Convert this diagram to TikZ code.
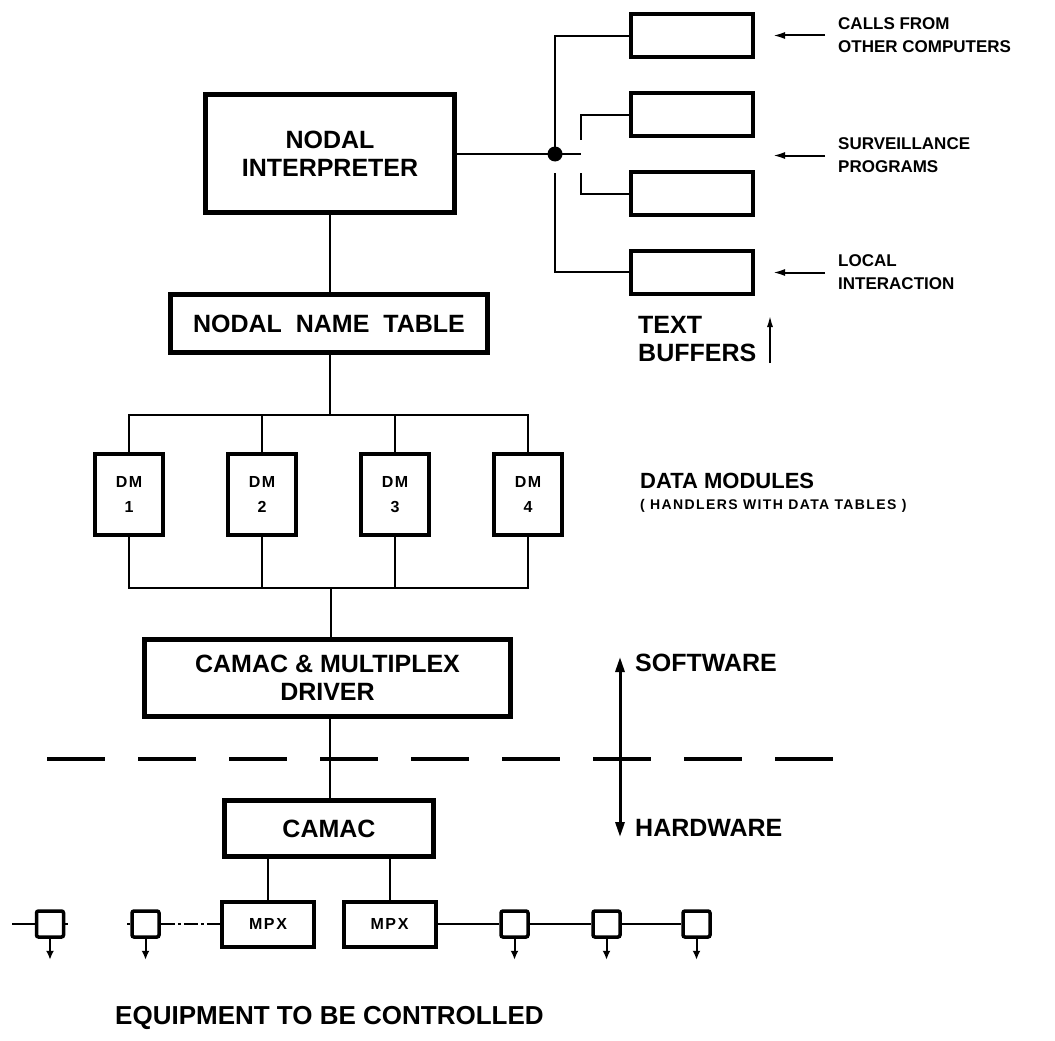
\documentclass[tikz,border=0pt]{standalone}
\usepackage{fontspec}
\setmainfont{Liberation Sans}
\newfontfamily\spacedf[LetterSpace=10]{Liberation Sans}
\usetikzlibrary{arrows.meta}
\newcommand\bigf{\bfseries\fontsize{25}{28}\selectfont}
\newcommand\labf{\bfseries\fontsize{17}{23}\selectfont}
\newcommand\dmf{\spacedf\bfseries\fontsize{16}{25}\selectfont}
\newcommand\subf{\spacedf\bfseries\fontsize{14}{16}\selectfont}
\begin{document}
\begin{tikzpicture}[x=1pt,y=-1pt,
  bigbox/.style={draw, line width=4.5pt, inner sep=0pt, align=center, font=\bigf},
  dmbox/.style={draw, line width=4pt, inner sep=0pt, align=center, font=\dmf,
                minimum width=68pt, minimum height=81pt},
  bufbox/.style={draw, line width=4pt, inner sep=0pt, minimum width=122pt, minimum height=43pt},
  mpxbox/.style={draw, line width=4pt, inner sep=0pt, align=center, font=\dmf,
                 minimum width=92pt, minimum height=45pt},
  eqbox/.style={draw, line width=3.5pt, inner sep=0pt, rounded corners=2pt,
                minimum width=27pt, minimum height=26pt},
  conn/.style={line width=2pt},
  lab/.style={anchor=west, align=left, inner sep=0pt, font=\labf},
  biglab/.style={anchor=west, align=left, inner sep=0pt, font=\bigf},
  smalltip/.style={-{Latex[length=12pt,width=7pt]}, line width=2pt},
  downtip/.style={-{Latex[length=9pt,width=8pt]}, line width=2pt},
  bigtip/.style={-{Triangle[length=15pt,width=9pt]}, line width=3pt}
]
\useasboundingbox (0,0) rectangle (1055,1041);
\fill[white] (0,0) rectangle (1055,1041);

% main chain
\node[bigbox, minimum width=249pt, minimum height=118pt] (interp) at (330,153.5) {NODAL\\INTERPRETER};
\node[bigbox, minimum width=317pt, minimum height=58pt] (ntab) at (329,323.5) {NODAL\ \ NAME\ \ TABLE};
\node[dmbox] (dm1) at (129,494.5) {DM\\1};
\node[dmbox] (dm2) at (262,494.5) {DM\\2};
\node[dmbox] (dm3) at (395,494.5) {DM\\3};
\node[dmbox] (dm4) at (528,494.5) {DM\\4};
\node[bigbox, minimum width=366pt, minimum height=77pt] (drv) at (327.5,678) {CAMAC \& MULTIPLEX\\DRIVER};
\node[bigbox, minimum width=209pt, minimum height=56pt] (camac) at (329,828.5) {CAMAC};
\node[mpxbox] (mpx1) at (268,924) {MPX};
\node[mpxbox] (mpx2) at (389.5,924) {MPX};

% equipment squares
\node[eqbox] (sq1) at (50,924) {};
\node[eqbox] (sq2) at (145.5,924) {};
\node[eqbox] (sq3) at (514.5,924) {};
\node[eqbox] (sq4) at (606.5,924) {};
\node[eqbox] (sq5) at (696.5,924) {};

% text buffers
\node[bufbox] (buf1) at (692,36) {};
\node[bufbox] (buf2) at (692,114.5) {};
\node[bufbox] (buf3) at (692,193.5) {};
\node[bufbox] (buf4) at (692,272) {};

% labels
\node[lab] (calls) at (838,35.5) {CALLS FROM\\OTHER COMPUTERS};
\node[lab] (surv) at (838,155.5) {SURVEILLANCE\\PROGRAMS};
\node[lab] (local) at (838,272.5) {LOCAL\\INTERACTION};
\node[biglab] (tbuf) at (638,339) {TEXT\\BUFFERS};
\node[anchor=west, inner sep=0pt, font=\bfseries\fontsize{22}{24}\selectfont] (dmlab) at (640,481) {DATA MODULES};
\node[anchor=west, inner sep=0pt, font=\subf] (dmsub) at (640,506) {( HANDLERS WITH DATA TABLES )};
\node[biglab] (soft) at (635,663) {SOFTWARE};
\node[biglab] (hard) at (635,828) {HARDWARE};
\node[anchor=west, inner sep=0pt, font=\bfseries\fontsize{26}{28}\selectfont] (equip) at (115,1018) {EQUIPMENT TO BE CONTROLLED};

% coordinates
\coordinate (tb) at (330,415);
\coordinate (bb) at (331,588);
\coordinate (dot) at (555,154);
\coordinate (sw) at (620,759);

% connectors main chain
\draw[conn] (interp.south) -- (ntab.north -| interp.south);
\draw[conn] (ntab.south -| tb) -- (tb);
\draw[conn] (dm1.north) |- (tb) -| (dm4.north);
\draw[conn] (dm2.north) -- (dm2.north |- tb);
\draw[conn] (dm3.north) -- (dm3.north |- tb);
\draw[conn] (dm1.south) |- (bb) -| (dm4.south);
\draw[conn] (dm2.south) -- (dm2.south |- bb);
\draw[conn] (dm3.south) -- (dm3.south |- bb);
\draw[conn] (bb) -- (drv.north -| bb);
\draw[conn] (drv.south -| tb) -- (camac.north -| tb);
\draw[conn] (camac.south -| mpx1.north) -- (mpx1.north);
\draw[conn] (camac.south -| mpx2.north) -- (mpx2.north);

% equipment line
\draw[conn] (sq1.west) -- ++(-23,0);
\draw[conn] (sq1.east) -- ++(3,0);
\draw[conn] (sq2.west) -- ++(-3,0);
\draw[conn, dash pattern=on 14pt off 3pt on 3pt off 3pt] (sq2.east) -- (mpx1.west);
\draw[conn] (mpx2.east) -- (sq3.west);
\draw[conn] (sq3.east) -- (sq4.west);
\draw[conn] (sq4.east) -- (sq5.west);
\foreach \s in {sq1,sq2,sq3,sq4,sq5}
  \draw[downtip] (\s.south) -- ++(0,21);

% interpreter to text buffers
\draw[conn] (interp.east |- dot) -- (dot) -- ++(26,0);
\fill (dot) circle (7.5pt);
\draw[conn] (dot) -- (dot |- buf1.west) -- (buf1.west);
\draw[conn] ([yshift=-19pt]dot) -- (dot |- buf4.west) -- (buf4.west);
\draw[conn] (buf2.west) -| (581,140);
\draw[conn] (buf3.west) -| (581,173);

% input arrows
\draw[smalltip] ([xshift=-13pt]calls.west) -- ++(-52,0);
\draw[smalltip] ([xshift=-13pt]surv.west) -- ++(-52,0);
\draw[smalltip] ([xshift=-13pt]local.west) -- ++(-52,0);
\draw[-{Latex[length=12pt,width=6pt]}, line width=2pt] (770,363) -- (770,315);

% software / hardware divide
\draw[line width=3.5pt, dash pattern=on 58pt off 33pt] (47,759) -- (834,759);
\draw[bigtip] ([yshift=-6pt]sw) -- (620,657);
\draw[bigtip] ([yshift=8pt]sw) -- (620,837);
\end{tikzpicture}
\end{document}
